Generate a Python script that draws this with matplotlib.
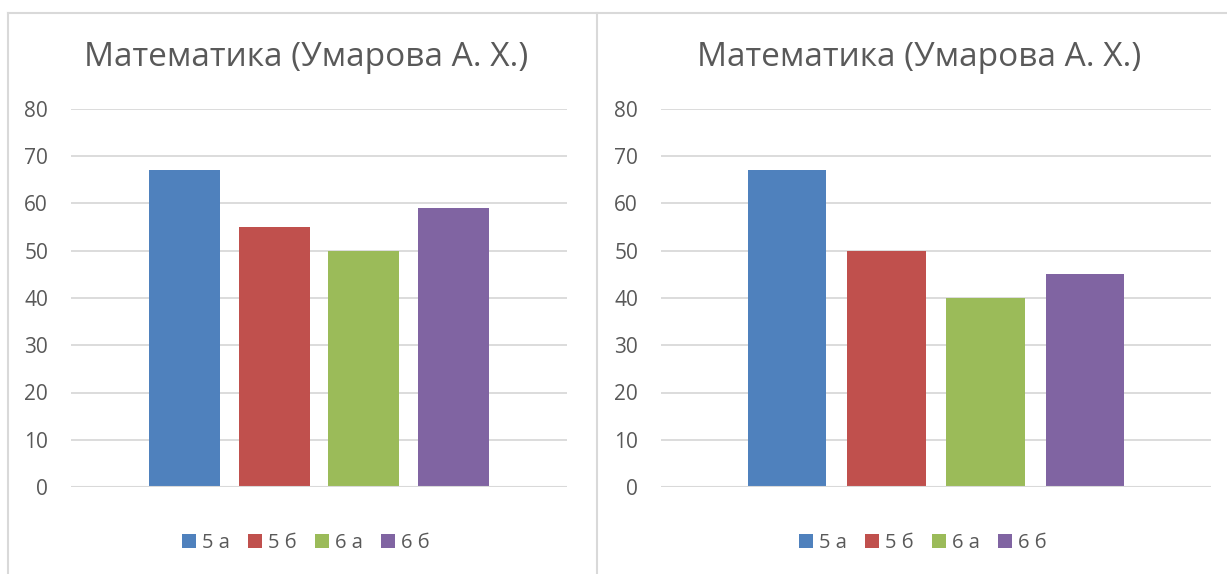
import numpy as np
import matplotlib
matplotlib.use("Agg")
import matplotlib.pyplot as plt
from matplotlib.patches import Patch
from matplotlib.lines import Line2D

plt.rcParams['font.family'] = ['Open Sans', 'DejaVu Sans']

title = "Математика (Умарова А. Х.)"
classes = ["5 а", "5 б", "6 а", "6 б"]
left_vals = [67, 55, 50, 59]
right_vals = [67, 50, 40, 45]
colors = ["#4F81BD", "#C0504D", "#9BBB59", "#8064A2"]
yticks = [0, 10, 20, 30, 40, 50, 60, 70, 80]

W, H = 1227, 574
fig = plt.figure(figsize=(W / 100, H / 100), dpi=100)
text_col = "#595959"
grid_col = "#D9D9D9"

def fx(px):
    return px / W

def fy(py):
    return 1 - py / H

# panel borders
for xs, ys in [([8, 1227], [13, 13]), ([8, 8], [13, 574]), ([597, 597], [13, 574])]:
    fig.add_artist(Line2D([fx(x) for x in xs], [fy(y) for y in ys],
                          color=grid_col, lw=1.5, transform=fig.transFigure))

panels = [
    (71, 567, left_vals, 306, 306),
    (661, 1211, right_vals, 919, 923),
]

for x0, x1, vals, tcx, lcx in panels:
    ax = fig.add_axes([fx(x0), fy(487), fx(x1 - x0), fy(109) - fy(487)])
    pos = np.arange(len(classes))
    ax.bar(pos, vals, width=0.79, color=colors, zorder=3)
    ax.set_xlim(-1.265, 4.265)
    ax.set_ylim(0, 80)
    ax.set_yticks(yticks)
    ax.set_xticks([])
    ax.grid(axis='y', color=grid_col, lw=1.3, zorder=0)
    for s in ax.spines.values():
        s.set_visible(False)
    ax.tick_params(axis='y', length=0, pad=16.5, labelsize=15, labelcolor=text_col)
    ax.axhline(0, color=grid_col, lw=1.5, zorder=4)
    fig.text(fx(tcx), fy(58), title, ha='center', va='center',
             fontsize=24, color=text_col)
    handles = [Patch(facecolor=c, edgecolor='none') for c in colors]
    fig.legend(handles, classes, loc='center', bbox_to_anchor=(fx(lcx), fy(543)),
               ncol=4, frameon=False, fontsize=14.5, labelcolor=text_col,
               handlelength=0.7, handleheight=0.7, handletextpad=0.3,
               columnspacing=0.9)

fig.savefig("out.png", dpi=100)
